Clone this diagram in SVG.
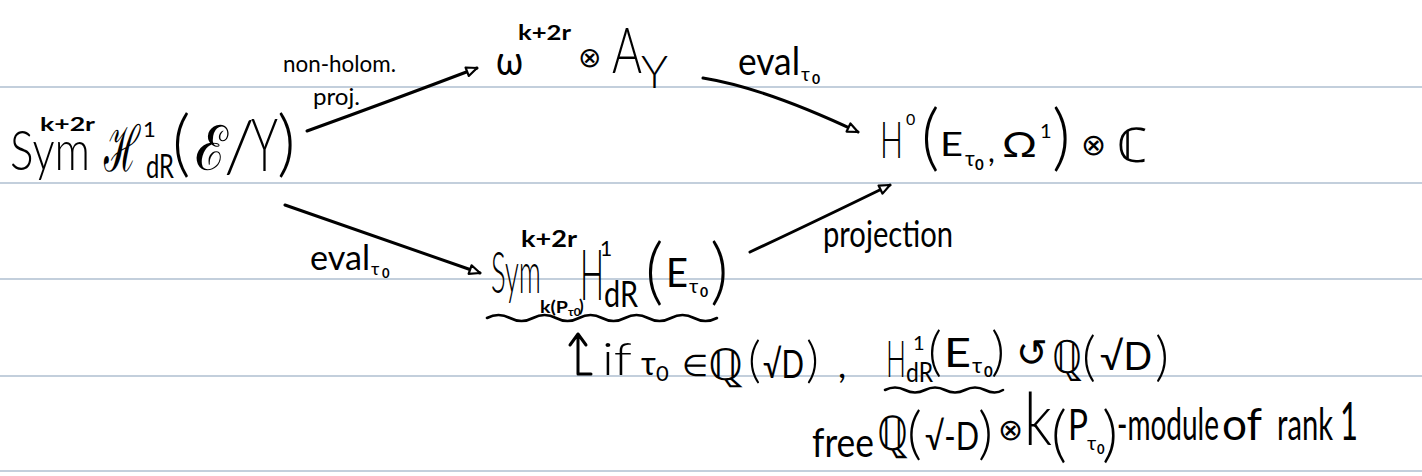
<svg xmlns="http://www.w3.org/2000/svg" width="1422" height="476" viewBox="0 0 1422 476">
<style>
.rule{stroke:#c3cfdc;stroke-width:2}
.t{font-family:Lato,Roboto,"Noto Sans","DejaVu Sans",sans-serif;font-weight:300;fill:#000}
.R{font-weight:400}
.B{font-weight:700}
.m{font-family:"DejaVu Sans","Noto Sans",sans-serif;font-weight:200}
.ink{fill:none;stroke:#000;stroke-width:3;stroke-linecap:round;stroke-linejoin:round}
.wave{fill:none;stroke:#000;stroke-width:2.6;stroke-linecap:round}
</style>
<defs>
<marker id="arr" viewBox="0 0 14 12" refX="12" refY="6" markerWidth="14" markerHeight="12" markerUnits="userSpaceOnUse" orient="auto">
<path d="M1.5,1.5 L12,6 L1.5,10.5 Z" fill="#fff" stroke="#000" stroke-width="2.2" stroke-linejoin="round"/>
</marker>
</defs>
<rect width="1422" height="476" fill="#fff"/>
<g id="page-rules">
<line class="rule" x1="0" y1="87" x2="1422" y2="87"/>
<line class="rule" x1="0" y1="183" x2="1422" y2="183"/>
<line class="rule" x1="0" y1="279" x2="1422" y2="279"/>
<line class="rule" x1="0" y1="376" x2="1422" y2="376"/>
<line class="rule" x1="0" y1="471" x2="1422" y2="471"/>
</g>

<g id="node-source">
<text class="t">
<tspan x="10" y="170" font-size="56" textLength="80" lengthAdjust="spacingAndGlyphs">Sym</tspan>
<tspan class="B" x="40" y="131" font-size="19" textLength="55" lengthAdjust="spacingAndGlyphs">k+2r</tspan>
<tspan class="m" x="104" y="171" font-size="64" textLength="36" lengthAdjust="spacingAndGlyphs">ℋ</tspan>
<tspan class="R" x="143" y="137" font-size="22">1</tspan>
<tspan class="R" x="146" y="178" font-size="33" textLength="28" lengthAdjust="spacingAndGlyphs">dR</tspan>
<tspan x="172" y="168" font-size="72">(</tspan>
<tspan class="m" x="195" y="170" font-size="62" textLength="33" lengthAdjust="spacingAndGlyphs">ℰ</tspan>
<tspan x="224" y="172" font-size="70">/</tspan>
<tspan x="251" y="171" font-size="72" textLength="27" lengthAdjust="spacingAndGlyphs">Y</tspan>
<tspan x="277" y="168" font-size="72">)</tspan>
</text>
</g>

<g id="node-omega">
<text class="t">
<tspan class="R" x="496" y="75" font-size="40" textLength="27" lengthAdjust="spacingAndGlyphs">ω</tspan>
<tspan class="B" x="518" y="40" font-size="21" textLength="53" lengthAdjust="spacingAndGlyphs">k+2r</tspan>
<tspan class="m" x="578" y="67" font-size="28">⊗</tspan>
<tspan x="612" y="73" font-size="64" textLength="30" lengthAdjust="spacingAndGlyphs">A</tspan>
<tspan x="641" y="88" font-size="45" textLength="27" lengthAdjust="spacingAndGlyphs">Y</tspan>
</text>
</g>

<g id="node-target">
<text class="t">
<tspan x="880" y="158" font-size="52" textLength="23" lengthAdjust="spacingAndGlyphs">H</tspan>
<tspan class="R" x="906" y="125" font-size="16">0</tspan>
<tspan x="921" y="162" font-size="72">(</tspan>
<tspan class="R" x="940" y="156" font-size="33" textLength="23" lengthAdjust="spacingAndGlyphs">E</tspan>
<tspan class="R" x="965" y="166" font-size="21">τ</tspan>
<tspan class="B" x="975" y="170" font-size="15">0</tspan>
<tspan class="R" x="988" y="162" font-size="30">,</tspan>
<tspan class="R" x="1002" y="157" font-size="34" textLength="35" lengthAdjust="spacingAndGlyphs">Ω</tspan>
<tspan class="R" x="1040" y="138" font-size="20">1</tspan>
<tspan x="1052" y="162" font-size="72">)</tspan>
<tspan class="m" x="1081" y="155" font-size="30">⊗</tspan>
<tspan class="m" x="1117" y="162" font-size="48" textLength="31" lengthAdjust="spacingAndGlyphs">ℂ</tspan>
</text>
</g>

<g id="node-fiber">
<text class="t">
<tspan x="491" y="293" font-size="58" textLength="50" lengthAdjust="spacingAndGlyphs">Sym</tspan>
<tspan class="B" x="521" y="247" font-size="22" textLength="56" lengthAdjust="spacingAndGlyphs">k+2r</tspan>
<tspan class="B" x="540" y="313" font-size="17" textLength="28" lengthAdjust="spacingAndGlyphs">k(P</tspan>
<tspan class="B" x="568" y="316" font-size="12">τ0</tspan>
<tspan class="B" x="579" y="312" font-size="17">)</tspan>
<tspan x="580" y="300" font-size="70" textLength="24" lengthAdjust="spacingAndGlyphs">H</tspan>
<tspan class="R" x="600" y="256" font-size="21">1</tspan>
<tspan class="R" x="604" y="307" font-size="36" textLength="34" lengthAdjust="spacingAndGlyphs">dR</tspan>
<tspan x="645" y="296" font-size="72">(</tspan>
<tspan class="R" x="666" y="287" font-size="40" textLength="22" lengthAdjust="spacingAndGlyphs">E</tspan>
<tspan class="R" x="689" y="293" font-size="20">τ</tspan>
<tspan class="B" x="700" y="297" font-size="14">0</tspan>
<tspan x="710" y="296" font-size="72">)</tspan>
</text>
<path class="wave" d="M487,318 q11.5,-6 23,0 t23,0 t23,0 t23,0 t23,0 t23,0 t23,0 t23,0 t23,0 t23,0"/>
</g>

<g id="node-condition">
<path class="ink" d="M578,334 L578,374 L591,374 M570,345 L578,334 L586,345"/>
<text class="t">
<tspan x="602" y="375" font-size="46" textLength="30" lengthAdjust="spacingAndGlyphs">if</tspan>
<tspan class="R" x="641" y="375" font-size="32">τ</tspan>
<tspan class="R" x="656" y="381" font-size="22">0</tspan>
<tspan class="m" x="682" y="376" font-size="30">∈</tspan>
<tspan class="m" x="708" y="380" font-size="44" textLength="35" lengthAdjust="spacingAndGlyphs">ℚ</tspan>
<tspan x="748" y="377" font-size="50">(</tspan>
<tspan class="R" x="763" y="378" font-size="38" textLength="41" lengthAdjust="spacingAndGlyphs">√D</tspan>
<tspan x="806" y="377" font-size="50">)</tspan>
<tspan class="R" x="838" y="378" font-size="36">,</tspan>
<tspan x="886" y="377" font-size="52" textLength="20" lengthAdjust="spacingAndGlyphs">H</tspan>
<tspan class="R" x="913" y="350" font-size="20">1</tspan>
<tspan class="R" x="906" y="382" font-size="26" textLength="27" lengthAdjust="spacingAndGlyphs">dR</tspan>
<tspan x="928" y="370" font-size="54">(</tspan>
<tspan class="R" x="944" y="367" font-size="40" textLength="27" lengthAdjust="spacingAndGlyphs">E</tspan>
<tspan class="R" x="972" y="373" font-size="22">τ</tspan>
<tspan class="B" x="984" y="377" font-size="15">0</tspan>
<tspan x="991" y="370" font-size="54">)</tspan>
<tspan class="m" x="1016" y="366" font-size="38">↺</tspan>
<tspan class="m" x="1052" y="373" font-size="46" textLength="30" lengthAdjust="spacingAndGlyphs">ℚ</tspan>
<tspan x="1082" y="375" font-size="54">(</tspan>
<tspan class="R" x="1100" y="370" font-size="38" textLength="52" lengthAdjust="spacingAndGlyphs">√D</tspan>
<tspan x="1155" y="375" font-size="54">)</tspan>
</text>
<path class="wave" d="M885,390 q10,-5 20,0 t20,0 t20,0 t20,0 t20,0 t18,0"/>
</g>

<g id="node-free-module">
<text class="t">
<tspan class="R" x="812" y="457" font-size="40" textLength="62" lengthAdjust="spacingAndGlyphs">free</tspan>
<tspan class="m" x="877" y="450" font-size="48" textLength="31" lengthAdjust="spacingAndGlyphs">ℚ</tspan>
<tspan x="907" y="453" font-size="58">(</tspan>
<tspan class="R" x="925" y="450" font-size="38" textLength="54" lengthAdjust="spacingAndGlyphs">√-D</tspan>
<tspan x="978" y="453" font-size="58">)</tspan>
<tspan class="m" x="998" y="440" font-size="30">⊗</tspan>
<tspan x="1024" y="445" font-size="72" textLength="28" lengthAdjust="spacingAndGlyphs">k</tspan>
<tspan x="1051" y="455" font-size="62">(</tspan>
<tspan class="R" x="1068" y="440" font-size="42" textLength="20" lengthAdjust="spacingAndGlyphs">P</tspan>
<tspan class="R" x="1087" y="450" font-size="20">τ</tspan>
<tspan class="B" x="1097" y="454" font-size="13">0</tspan>
<tspan x="1102" y="455" font-size="62">)</tspan>
<tspan class="R" x="1117" y="440" font-size="44" textLength="102" lengthAdjust="spacingAndGlyphs">-module</tspan>
<tspan class="R" x="1222" y="440" font-size="44" textLength="40" lengthAdjust="spacingAndGlyphs">of</tspan>
<tspan class="R" x="1277" y="440" font-size="44" textLength="56" lengthAdjust="spacingAndGlyphs">rank</tspan>
<tspan class="R" x="1340" y="440" font-size="52" textLength="18" lengthAdjust="spacingAndGlyphs">1</tspan>
</text>
</g>

<g id="connectors">
<g id="edge-nonholom">
<path class="ink" d="M307,131 Q390,101 477,68" marker-end="url(#arr)"/>
<text class="t R"><tspan x="283" y="72" font-size="23" textLength="113" lengthAdjust="spacingAndGlyphs">non-holom.</tspan><tspan x="313" y="105" font-size="23" textLength="47" lengthAdjust="spacingAndGlyphs">proj.</tspan></text>
</g>
<g id="edge-eval-top">
<path class="ink" d="M703,78 Q765,88 858,132" marker-end="url(#arr)"/>
<text class="t R"><tspan x="738" y="75" font-size="38" textLength="62" lengthAdjust="spacingAndGlyphs">eval</tspan><tspan x="801" y="81" font-size="19">τ</tspan><tspan class="B" x="812" y="84" font-size="14">0</tspan></text>
</g>
<g id="edge-eval-bottom">
<path class="ink" d="M285,205 L480,273" marker-end="url(#arr)"/>
<text class="t R"><tspan x="310" y="270" font-size="34" textLength="60" lengthAdjust="spacingAndGlyphs">eval</tspan><tspan x="371" y="275" font-size="18">τ</tspan><tspan class="B" x="382" y="278" font-size="13">0</tspan></text>
</g>
<g id="edge-projection">
<path class="ink" d="M750,252 Q810,224 890,185" marker-end="url(#arr)"/>
<text class="t R" x="823" y="247" font-size="36" textLength="130" lengthAdjust="spacingAndGlyphs">projection</text>
</g>
</g>
</svg>
